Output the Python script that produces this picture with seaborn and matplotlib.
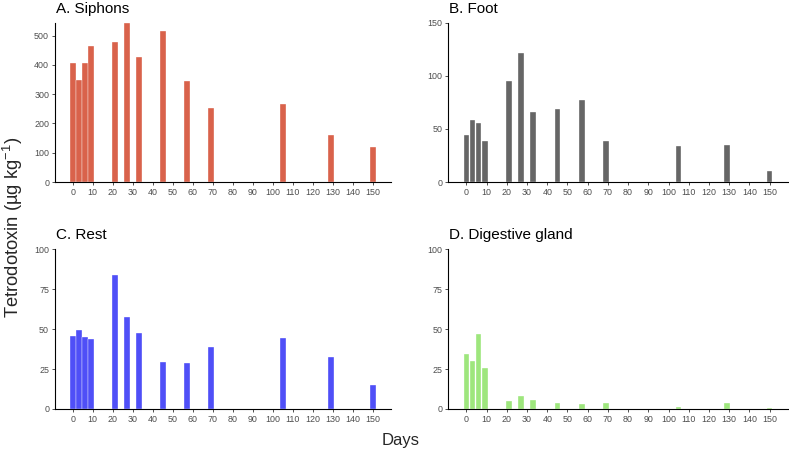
"""Tetrodotoxin depuration in four tissues over 150 days (2x2 bar panels)."""

import matplotlib
matplotlib.use("Agg")
import matplotlib.pyplot as plt
import pandas as pd
import seaborn as sns


days = [0, 3, 6, 9, 21, 27, 33, 45, 57, 69, 105, 129, 150]

siphons = [405, 348, 405, 463, 478, 544, 427, 516, 345, 254, 265, 160, 121]
foot = [44.3, 58.4, 55.6, 38.9, 95.1, 121.5, 65.6, 69.0, 76.9, 38.6, 33.9, 35.1, 10.4]
rest = [45.9, 49.7, 45.1, 43.8, 83.9, 57.8, 47.4, 29.2, 28.6, 38.6, 44.5, 32.6, 14.8]
digestive = [34.4, 30.1, 47.2, 25.9, 5.0, 8.1, 5.4, 3.5, 3.1, 3.8, 1.5, 3.8, 0.6]

panel_titles = ["A. Siphons", "B. Foot", "C. Rest", "D. Digestive gland"]
panel_colors = ["#D9624B", "#666666", "#4F4FF7", "#9EE67D"]
panel_yticks = [
    [0, 100, 200, 300, 400, 500],
    [0, 50, 100, 150],
    [0, 25, 50, 75, 100],
    [0, 25, 50, 75, 100],
]
panel_ymax = [max(siphons), 150, 100, 100]
xticks = list(range(0, 151, 10))

sns.set_theme(style="ticks")
plt.rcParams["font.family"] = ["Liberation Sans", "DejaVu Sans"]
plt.rcParams["mathtext.fontset"] = "custom"
plt.rcParams["mathtext.rm"] = "Liberation Sans"
plt.rcParams["mathtext.it"] = "Liberation Sans:italic"

W, H = 789, 451
fig = plt.figure(figsize=(W / 100, H / 100), dpi=100)

# panel boxes in pixels: left, top, right, bottom
boxes = [
    (54.7, 22.7, 390.7, 182.0),
    (448.3, 22.7, 787.7, 182.0),
    (54.7, 249.3, 390.7, 409.0),
    (448.3, 249.3, 787.7, 409.0),
]
title_pos = [(56, 13.3), (449.3, 12.7), (56, 239.0), (449.3, 239.0)]

series = [siphons, foot, rest, digestive]

for i in range(4):
    left, top, right, bottom = boxes[i]
    ax = fig.add_axes([left / W, 1 - bottom / H, (right - left) / W, (bottom - top) / H])
    df = pd.DataFrame({"day": days, "ttx": series[i]})
    sns.barplot(data=df, x="day", y="ttx", native_scale=True, color=panel_colors[i],
                saturation=1, edgecolor="#FFFFFF", linewidth=0.25, width=0.95,
                errorbar=None, ax=ax)
    ax.set_xlim(-9, 159)
    ax.set_ylim(0, panel_ymax[i])
    ax.set_xticks(xticks)
    ax.set_xticklabels([str(t) for t in xticks])
    ax.set_yticks(panel_yticks[i])
    ax.set_yticklabels([str(t) for t in panel_yticks[i]])
    ax.set_xlabel("")
    ax.set_ylabel("")
    sns.despine(ax=ax)
    for side in ["left", "bottom"]:
        ax.spines[side].set_linewidth(0.8)
        ax.spines[side].set_color("black")
    ax.tick_params(axis="both", labelsize=6.4, length=2.5, width=0.6, pad=1.5,
                   colors="#333333", labelcolor="#4D4D4D")
    ax.grid(False)
    tx, ty = title_pos[i]
    fig.text(tx / W, 1 - ty / H, panel_titles[i], fontsize=11, va="baseline", ha="left", color="black")

fig.text(401 / W, 1 - 445 / H, "Days", fontsize=12, ha="center", va="baseline")
fig.text(12.5 / W, 1 - 227 / H, "Tetrodotoxin (µg kg$^{-1}$)", fontsize=13.2, rotation=90,
         ha="center", va="center")

fig.savefig("out.png", dpi=100)
plt.close(fig)
